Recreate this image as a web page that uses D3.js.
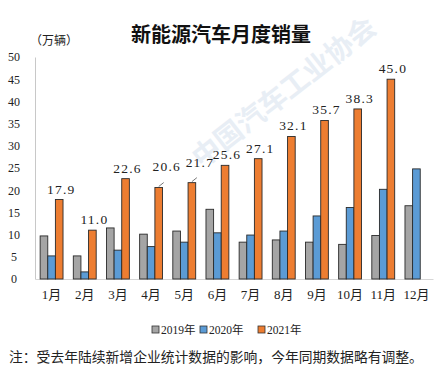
<!DOCTYPE html>
<html>
<head>
<meta charset="utf-8">
<script src="https://cdn.jsdelivr.net/npm/d3@7"></script>
<style>
  body { margin: 0; background: #fff; }
  svg { display: block; }
</style>
</head>
<body>
<script>
// monthly NEV sales, 10k units
var months = ["1月","2月","3月","4月","5月","6月","7月","8月","9月","10月","11月","12月"];
var seriesNames = ["2019年","2020年","2021年"];
var sales2019 = [9.7, 5.2, 11.5, 10.1, 10.8, 15.7, 8.3, 8.8, 8.3, 7.8, 9.8, 16.5];
var sales2020 = [5.2, 1.6, 6.5, 7.3, 8.3, 10.4, 9.9, 10.8, 14.2, 16.1, 20.2, 24.8];
var sales2021 = [17.9, 11.0, 22.6, 20.6, 21.7, 25.6, 27.1, 32.1, 35.7, 38.3, 45.0, null];
var yTicks = [0, 5, 10, 15, 20, 25, 30, 35, 40, 45, 50];

(function(){
    var w = 444, h = 375;
    var colors = ["#a5a5a5", "#5b9bd5", "#ed7d31"];
    var serif = "'Liberation Serif', 'Noto Sans CJK SC', serif";
    var cjk = "'Noto Sans CJK SC', sans-serif";

    var svg = d3.select("body").append("svg")
        .attr("width", w)
        .attr("height", h);

    // faint watermark
    svg.append("text")
        .attr("transform", "translate(290,100) rotate(-38)")
        .attr("text-anchor", "middle")
        .attr("font-family", cjk).attr("font-weight", "bold")
        .attr("font-size", 28).attr("fill", "#e8eef5")
        .text("中国汽车工业协会");

    var x = d3.scaleBand().domain(months).range([35, 433])
        .paddingInner(0.31).paddingOuter(0.155);
    var xs = d3.scaleBand().domain(seriesNames).range([0, x.bandwidth()]);
    var y = d3.scaleLinear().domain([0, 50]).range([279, 57]);

    // title + unit
    svg.append("text").attr("x", 221).attr("y", 42)
        .attr("text-anchor", "middle").attr("font-family", cjk)
        .attr("font-weight", "bold").attr("font-size", 20).attr("fill", "#111")
        .text("新能源汽车月度销量");
    svg.append("text").attr("x", 30).attr("y", 45)
        .attr("font-family", cjk).attr("font-size", 12).attr("fill", "#222")
        .text("（万辆）");

    // y axis
    var yAxis = svg.append("g")
        .attr("transform", "translate(35,0)")
        .call(d3.axisLeft(y).tickValues(yTicks).tickSize(0).tickPadding(0));
    yAxis.select(".domain").attr("stroke", "#c8c8c8");
    yAxis.selectAll("text")
        .attr("x", -21).attr("text-anchor", "middle")
        .attr("font-family", serif).attr("font-size", 12).attr("fill", "#222");

    // x axis
    var xAxis = svg.append("g")
        .attr("transform", "translate(0,279)")
        .call(d3.axisBottom(x).tickSize(0).tickPadding(11));
    xAxis.select(".domain").attr("stroke", "#d6d6d6");
    xAxis.selectAll("text")
        .attr("font-family", serif).attr("font-size", 13).attr("fill", "#222");

    // bars
    var all = [sales2019, sales2020, sales2021];
    var groups = svg.selectAll("g.month")
        .data(months)
        .enter()
        .append("g")
        .attr("class", "month")
        .attr("transform", function(d) { return "translate(" + x(d) + ",0)"; });

    groups.selectAll("rect")
        .data(function(d, i) {
            return seriesNames.map(function(s, j) { return {s: s, j: j, v: all[j][i]}; })
                .filter(function(e) { return e.v != null; });
        })
        .enter()
        .append("rect")
        .attr("x", function(d) { return xs(d.s); })
        .attr("y", function(d) { return y(d.v); })
        .attr("width", xs.bandwidth())
        .attr("height", function(d) { return y(0) - y(d.v); })
        .attr("fill", function(d) { return colors[d.j]; })
        .attr("stroke", "#2a2a2a")
        .attr("stroke-width", 0.9);

    // 2021 labels, Apr & May pushed aside with leader lines
    var shifted = {"4月": [8, -11], "5月": [8, -10]};
    months.forEach(function(m, i) {
        var v = sales2021[i];
        if (v == null) return;
        var cx = x(m) + xs("2021年") + xs.bandwidth() / 2;
        var top = y(v);
        var off = shifted[m] || [2, 0];
        if (shifted[m]) {
            svg.append("line")
                .attr("x1", cx).attr("y1", top - 1)
                .attr("x2", cx + 5).attr("y2", top - 5)
                .attr("stroke", "#555").attr("stroke-width", 0.8);
        }
        svg.append("text")
            .attr("x", cx + off[0]).attr("y", top - 6 + off[1])
            .attr("text-anchor", "middle")
            .attr("font-family", serif).attr("font-size", 13.5)
            .attr("letter-spacing", 1.2).attr("fill", "#222")
            .text(d3.format(".1f")(v));
    });

    // legend
    var leg = svg.append("g").attr("transform", "translate(152,330)");
    var legX = [0, 48, 106];
    seriesNames.forEach(function(s, j) {
        var g = leg.append("g").attr("transform", "translate(" + legX[j] + ",0)");
        g.append("rect").attr("x", 0).attr("y", -4).attr("width", 7).attr("height", 7)
            .attr("fill", colors[j]).attr("stroke", "#333").attr("stroke-width", 0.8);
        g.append("text").attr("x", 9).attr("y", 4)
            .attr("font-family", serif).attr("font-size", 11.5).attr("fill", "#222")
            .text(s);
    });

    // note
    svg.append("text").attr("x", 9).attr("y", 362)
        .attr("font-family", cjk).attr("font-size", 13.8).attr("fill", "#222")
        .text("注：受去年陆续新增企业统计数据的影响，今年同期数据略有调整。");
}());
</script>
</body>
</html>
